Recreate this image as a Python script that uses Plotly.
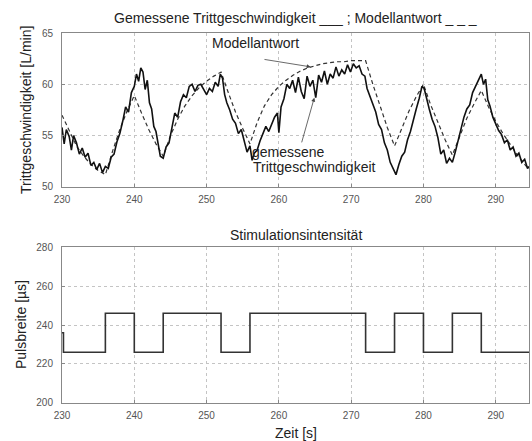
import plotly.graph_objects as go

# Measured cadence (solid, noisy)
t_meas = [230.0,230.3,230.6,231.0,231.3,231.6,232.0,232.4,232.8,233.2,233.6,234.0,234.4,234.8,235.2,235.6,236.0,236.4,236.8,237.2,237.6,238.0,238.4,238.8,239.2,239.6,240.0,240.3,240.6,240.9,241.2,241.5,241.8,242.1,242.4,242.7,243.0,243.3,243.6,244.0,244.4,244.8,245.2,245.6,246.0,246.4,246.8,247.2,247.6,248.0,248.4,248.8,249.2,249.6,250.0,250.4,250.8,251.2,251.6,251.9,252.2,252.5,252.8,253.2,253.6,254.0,254.4,254.8,255.2,255.6,256.0,256.3,256.6,257.0,257.4,257.8,258.2,258.6,259.0,259.4,259.8,260.0,260.3,260.7,261.1,261.5,261.9,262.3,262.7,263.1,263.5,263.9,264.3,264.7,265.1,265.5,265.9,266.3,266.7,267.1,267.5,267.9,268.3,268.7,269.1,269.5,269.9,270.3,270.7,271.1,271.5,271.9,272.2,272.6,273.0,273.4,273.8,274.2,274.6,275.0,275.4,275.8,276.2,276.6,277.0,277.4,277.8,278.2,278.6,279.0,279.4,279.8,280.1,280.4,280.8,281.2,281.6,282.0,282.4,282.8,283.2,283.6,284.0,284.4,284.8,285.2,285.6,286.0,286.4,286.8,287.2,287.6,288.0,288.3,288.6,288.9,289.2,289.6,290.0,290.4,290.8,291.2,291.6,292.0,292.4,292.8,293.2,293.6,294.0,294.4,294.6]
v_meas = [55.8,54.2,55.6,54.9,53.6,55.0,54.3,53.2,53.8,52.9,53.3,52.1,52.4,51.7,52.3,51.4,52.0,51.8,52.9,53.2,54.4,55.2,56.4,57.8,57.3,59.2,59.8,61.0,60.3,61.6,61.2,59.5,60.4,58.2,57.6,55.9,55.4,54.0,53.0,52.8,53.9,54.3,55.8,57.2,56.8,58.3,59.0,58.7,59.8,60.0,59.3,59.9,60.0,59.5,59.0,59.6,59.3,60.2,59.8,61.0,60.6,59.0,58.2,57.5,56.6,56.2,55.2,55.6,54.6,53.4,54.0,52.6,53.3,53.6,54.5,55.2,55.9,55.4,56.2,56.8,57.2,55.3,57.8,58.6,60.0,59.6,60.4,59.2,60.7,59.3,58.6,60.8,59.8,60.4,58.7,60.9,60.2,61.3,60.0,61.0,60.6,61.7,60.8,61.4,61.0,61.9,61.2,62.0,61.6,61.8,61.0,60.8,59.6,58.8,58.0,57.3,56.1,55.6,54.3,53.6,52.4,51.8,51.2,52.2,53.0,53.4,54.6,55.4,56.6,57.6,58.6,59.8,59.6,58.6,57.6,56.6,55.9,54.8,53.2,53.6,52.3,52.8,52.4,53.4,54.6,55.6,56.8,57.6,58.0,59.2,59.8,60.3,61.0,60.0,60.5,58.5,57.9,56.8,56.2,55.5,55.1,54.3,54.6,53.6,53.9,53.0,53.3,52.4,52.7,51.8,52.0]

# Model response (dashed)
t_model = [230,231,232,233,234,235,236,237,238,239,240,241,242,243,244,245,246,247,248,249,250,251,252,253,254,255,256,257,258,259,260,261,262,263,264,265,266,267,268,269,270,271,272,273,274,275,276,277,278,279,280,281,282,283,284,285,286,287,288,289,290,291,292,293,294,294.6]
v_model = [57.0,55.5,54.0,53.0,52.2,51.6,51.2,53.5,55.6,57.4,58.9,57.2,55.6,54.2,53.0,55.0,56.6,57.9,58.9,59.7,60.3,60.8,61.2,59.2,57.3,55.7,54.2,56.3,57.9,59.0,59.8,60.4,60.9,61.3,61.6,61.8,62.0,62.1,62.2,62.2,62.3,62.3,62.3,60.0,57.8,55.8,54.0,55.8,57.4,58.8,60.0,58.0,56.2,54.6,53.1,55.0,56.7,58.1,59.4,57.8,56.4,55.2,54.1,53.1,52.2,51.7]

# Stimulation pulse width (step changes)
t_stim = [230, 230.2, 236, 240, 244, 252, 256, 272, 276, 280, 284, 288, 294.6]
v_stim = [236, 226, 246, 226, 246, 226, 246, 226, 246, 226, 246, 226, 226]

x_ticks = [230, 240, 250, 260, 270, 280, 290]
y1_ticks = [50, 55, 60, 65]
y2_ticks = [200, 220, 240, 260, 280]

FONT = "Liberation Sans, Arial, sans-serif"
TXT = "#222"
TICK = "#555"
TFS = 14

fig = go.Figure()
fig.add_trace(go.Scatter(x=t_model, y=v_model, mode="lines",
                         line=dict(color="#333", width=1.2, dash="4px,3px"),
                         xaxis="x", yaxis="y", showlegend=False))
fig.add_trace(go.Scatter(x=t_meas, y=v_meas, mode="lines",
                         line=dict(color="#111", width=1.6),
                         xaxis="x", yaxis="y", showlegend=False))
fig.add_trace(go.Scatter(x=t_stim, y=v_stim, mode="lines", line_shape="hv",
                         line=dict(color="#333", width=1.6),
                         xaxis="x2", yaxis="y2", showlegend=False))

axis_common = dict(showline=True, mirror=True, linecolor="#888", linewidth=1,
                   ticks="inside", ticklen=3, tickcolor="#888",
                   showgrid=True, gridcolor="#c4c4c4", griddash="dot", gridwidth=1,
                   zeroline=False, tickfont=dict(family=FONT, size=10, color=TICK))

fig.update_layout(
    width=532, height=441,
    margin=dict(l=62, r=3, t=33, b=38),
    plot_bgcolor="white", paper_bgcolor="white",
    font=dict(family=FONT, color=TXT),
    xaxis=dict(domain=[0, 1], anchor="y", range=[230, 294.6], tickvals=x_ticks,
               ticklabelstandoff=3, **axis_common),
    yaxis=dict(domain=[0.5838, 1], anchor="x", range=[50, 65], tickvals=y1_ticks,
               ticklabelstandoff=6, **axis_common),
    xaxis2=dict(domain=[0, 1], anchor="y2", range=[230, 294.6], tickvals=x_ticks,
                ticklabelstandoff=3, **axis_common),
    yaxis2=dict(domain=[0, 0.4216], anchor="x2", range=[200, 280], tickvals=y2_ticks,
                ticklabelstandoff=6, **axis_common),
)

tf = dict(size=TFS, family=FONT, color=TXT)
annotations = [
    dict(text="Gemessene Trittgeschwindigkeit ___ ; Modellantwort _ _ _", xref="paper", yref="paper",
         x=0.5, y=1.0, yanchor="middle", yshift=15, showarrow=False, font=tf),
    dict(text="Stimulationsintensität", xref="paper", yref="paper",
         x=0.5, y=0.4216, yanchor="middle", yshift=12, showarrow=False, font=tf),
    dict(text="Zeit [s]", xref="paper", yref="paper",
         x=0.5, y=0.0, yanchor="middle", yshift=-30, showarrow=False, font=tf),
    dict(text="Trittgeschwindigkeit [L/min]", xref="paper", yref="paper", textangle=-90,
         x=0.0, y=0.7919, xanchor="center", yanchor="middle", xshift=-36, showarrow=False, font=tf),
    dict(text="Pulsbreite [µs]", xref="paper", yref="paper", textangle=-90,
         x=0.0, y=0.2108, xanchor="center", yanchor="middle", xshift=-41, showarrow=False, font=tf),
    dict(text="Modellantwort", xref="x", yref="y", x=250.47, y=64.03, xanchor="left",
         yanchor="middle", showarrow=False, font=tf),
    dict(text="", xref="x", yref="y", x=264.4, y=61.7, ax=257.8, ay=62.45,
         axref="x", ayref="y", showarrow=True, arrowhead=2, arrowsize=1, arrowwidth=0.8, arrowcolor="#444"),
    dict(text="gemessene", xref="x", yref="y", x=256.0, y=53.41,
         xanchor="left", yanchor="middle", showarrow=False, font=tf),
    dict(text="Trittgeschwindigkeit", xref="x", yref="y", x=256.2, y=51.95,
         xanchor="left", yanchor="middle", showarrow=False, font=tf),
    dict(text="", xref="x", yref="y", x=264.9, y=58.7, ax=263.1, ay=54.2,
         axref="x", ayref="y", showarrow=True, arrowhead=2, arrowsize=1, arrowwidth=0.8, arrowcolor="#444"),
]
fig.update_layout(annotations=annotations)

fig.write_html("out.html", config={"displayModeBar": False},
               post_script="document.body.style.margin='0';document.body.style.overflow='hidden';")
